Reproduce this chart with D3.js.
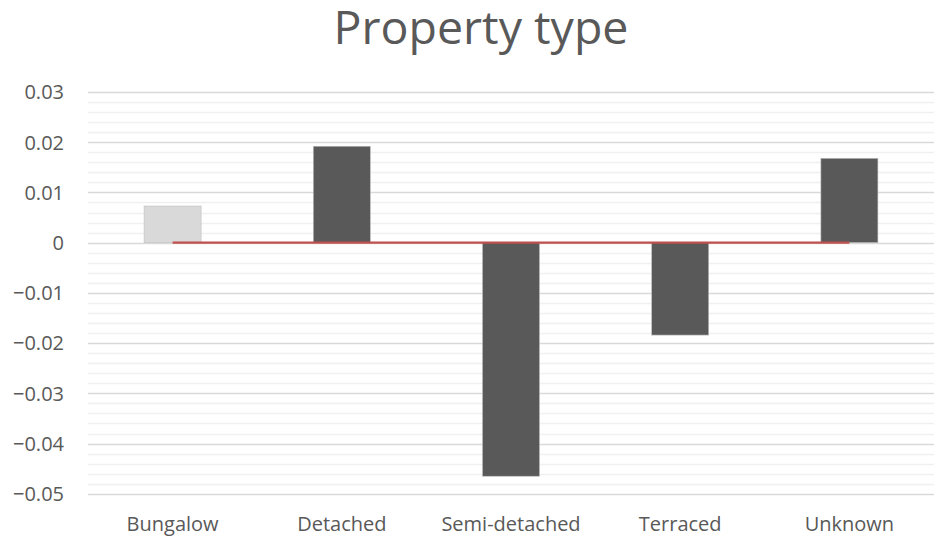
<!DOCTYPE html>
<html><head><meta charset="utf-8">
<script src="https://cdn.jsdelivr.net/npm/d3@7"></script>
<style>body{margin:0;background:#fff}svg{display:block}text{font-family:"Open Sans",sans-serif}</style>
</head><body><svg id="c" width="940" height="539"></svg>
<script>
const categories = ["Bungalow","Detached","Semi-detached","Terraced","Unknown"];
const values = [0.0073, 0.0192, -0.0465, -0.0184, 0.0168];
const barColors = ["#d9d9d9","#595959","#595959","#595959","#595959"];
const refLine = [0,0,0,0,0];
const yTicks = [0.03,0.02,0.01,0,-0.01,-0.02,-0.03,-0.04,-0.05];
const title = "Property type";

const svg = d3.select("#c");
const FONT = "'Open Sans',sans-serif";
const x = d3.scaleBand().domain(categories).range([88,934]).paddingInner(0.663).paddingOuter(0.3315);
const y = d3.scaleLinear().domain([-0.05,0.03]).range([493.8,92]);

// minor grid
const minor = d3.range(-50,31,2).map(v=>v/1000).filter(v=>Math.abs(Math.round(v*100)-v*100)>1e-6);
svg.append("g").selectAll("line").data(minor).join("line")
  .attr("x1",88).attr("x2",934).attr("y1",d=>Math.round(y(d))+0.5).attr("y2",d=>Math.round(y(d))+0.5)
  .attr("stroke","#f0f0f0").attr("stroke-width",1.5);
svg.append("g").selectAll("line").data(yTicks).join("line")
  .attr("x1",88).attr("x2",934).attr("y1",d=>Math.round(y(d))+0.5).attr("y2",d=>Math.round(y(d))+0.5)
  .attr("stroke","#d9d9d9").attr("stroke-width",1.5);

// y labels
const yAxis = d3.axisLeft(y).tickValues(yTicks).tickSize(0).tickPadding(0).tickFormat(d=>d===0?"0":d3.format(".2f")(d));
const ga = svg.append("g").attr("transform","translate(64,0)").call(yAxis);
ga.select(".domain").remove();
ga.selectAll("text").attr("font-size",20).attr("fill","#595959").attr("font-family",FONT).attr("dy","0.34em");

// bars
svg.append("g").selectAll("rect").data(categories).join("rect")
  .attr("x",d=>x(d)).attr("width",x.bandwidth())
  .attr("y",(d,i)=>y(Math.max(0,values[i]))).attr("height",(d,i)=>Math.abs(y(values[i])-y(0)))
  .attr("fill",(d,i)=>barColors[i]).attr("stroke","#bfbfbf").attr("stroke-width",0.6);

// red line
const line = d3.line().x((d,i)=>x(categories[i])+x.bandwidth()/2).y(d=>y(d));
svg.append("path").datum(refLine).attr("d",line).attr("fill","none").attr("stroke","#c0504d").attr("stroke-width",2.2);

// x labels
const xAxis = d3.axisBottom(x).tickSize(0).tickPadding(0);
const gx = svg.append("g").attr("transform","translate(0,531)").call(xAxis);
gx.select(".domain").remove();
gx.selectAll("text").attr("font-size",20).attr("fill","#595959").attr("font-family",FONT).attr("dy",0);

svg.append("text").attr("x",481).attr("y",44).attr("text-anchor","middle").attr("font-size",46.5).attr("fill","#595959").attr("font-family",FONT).text(title);
</script></body></html>
